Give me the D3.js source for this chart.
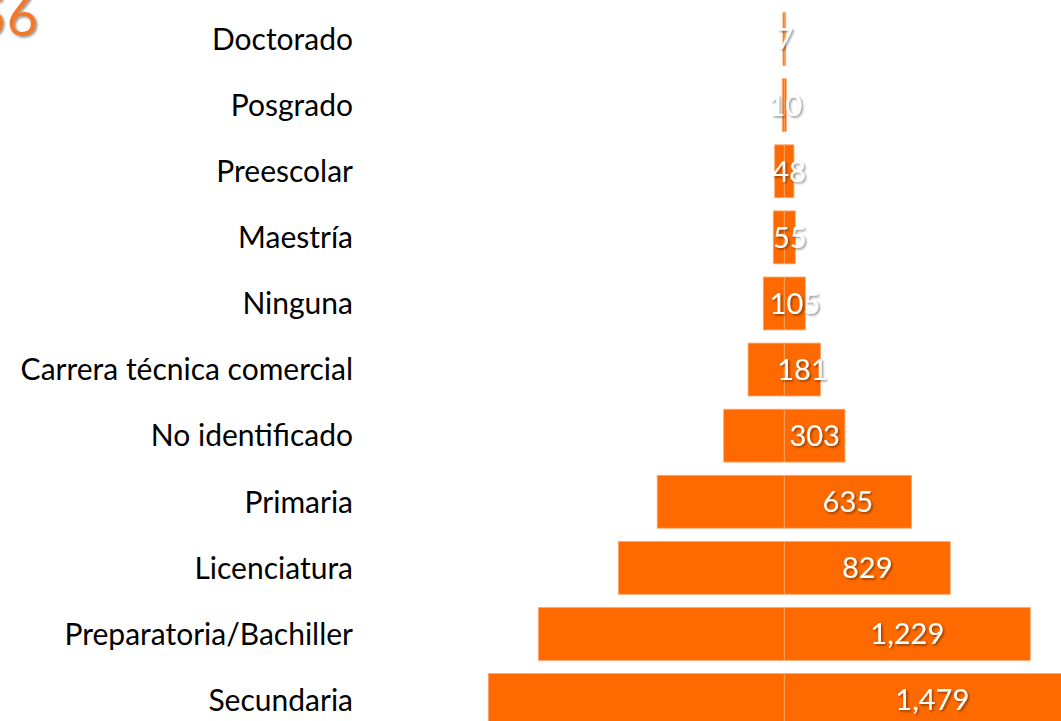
<!DOCTYPE html>
<html>
<head>
<meta charset="utf-8">
<script src="https://cdn.jsdelivr.net/npm/d3@7"></script>
<style>
html,body{margin:0;padding:0;background:#fff;overflow:hidden;}
svg{display:block;}
</style>
</head>
<body>
<svg id="chart" width="1061" height="721"></svg>
<script>
const categories = ["Doctorado","Posgrado","Preescolar","Maestría","Ninguna","Carrera técnica comercial","No identificado","Primaria","Licenciatura","Preparatoria/Bachiller","Secundaria"];
const values = [7,10,48,55,105,181,303,635,829,1229,1479];
const titleText = "56";

const W = 1061, H = 721;
const svg = d3.select("#chart");
const defs = svg.append("defs");
const f = defs.append("filter").attr("id","shadow").attr("x","-20%").attr("y","-20%").attr("width","140%").attr("height","140%");
f.append("feDropShadow").attr("dx",1.5).attr("dy",1.5).attr("stdDeviation",1).attr("flood-color","#000").attr("flood-opacity",0.45);

const data = categories.map((c,i)=>({cat:c, val:values[i]}));
const cx = 784.3;
const y = d3.scaleBand().domain(categories).range([-0.6, 739.7]).padding(0.2);
const half = d3.scaleLinear().domain([0, 1479]).range([0, 296]);
const fmt = d3.format(",");

const g = svg.append("g");
const rows = g.selectAll("g.row").data(data).join("g").attr("class","row");

rows.append("rect")
  .attr("x", d=>cx - half(d.val)).attr("y", d=>y(d.cat))
  .attr("width", d=>half(d.val)).attr("height", y.bandwidth())
  .attr("fill","#ff6a00").attr("stroke","#ffa56a").attr("stroke-width",0.8);
rows.append("rect")
  .attr("x", cx).attr("y", d=>y(d.cat))
  .attr("width", d=>half(d.val)).attr("height", y.bandwidth())
  .attr("fill","#ff6a00").attr("stroke","#ffa56a").attr("stroke-width",0.8);

rows.append("text")
  .attr("x", 353).attr("y", d=>y(d.cat)+y.bandwidth()/2)
  .attr("dy","0.36em").attr("text-anchor","end")
  .attr("font-family","Lato, 'Open Sans', sans-serif").attr("font-size",30)
  .attr("fill","#000").text(d=>d.cat);

rows.append("text")
  .attr("x", d=>cx + half(d.val)/2).attr("y", d=>y(d.cat)+y.bandwidth()/2)
  .attr("dy","0.36em").attr("text-anchor","middle")
  .attr("font-family","Lato, 'Open Sans', sans-serif").attr("font-size",29)
  .attr("fill","#fff").attr("filter","url(#shadow)").text(d=>fmt(d.val));

svg.append("text").attr("x",38).attr("y",36).attr("text-anchor","end")
  .attr("font-family","Lato, 'Open Sans', sans-serif").attr("font-size",54)
  .attr("fill","#f07a2c").attr("filter","url(#shadow)").text(titleText);
</script>
</body>
</html>
